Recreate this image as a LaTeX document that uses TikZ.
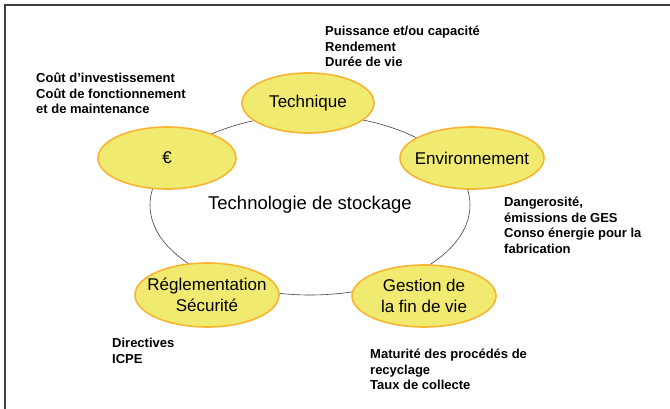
\documentclass[tikz,border=0pt]{standalone}
\usepackage{fontspec}
\setmainfont{Liberation Sans}
\usetikzlibrary{shapes.geometric}
\definecolor{bulle}{HTML}{F0EA70}
\definecolor{bord}{HTML}{F7B532}
\definecolor{trait}{HTML}{404040}
\tikzset{
    critere/.style={ellipse, draw=bord, line width=1.6pt, fill=bulle, inner ysep=0pt,
        inner xsep=-9pt, align=center, font=\fontsize{17}{21}\selectfont},
    detail/.style={anchor=north west, inner sep=0pt, align=left,
        font=\fontsize{13}{15.5}\selectfont\bfseries}
}

\begin{document}
\begin{tikzpicture}[x=1pt,y=-1pt]
        \useasboundingbox (0,0) rectangle (670,409);
        \draw[trait, line width=1.5pt] (5,409) -- (5,5) -- (670,5);
        % centre
        \coordinate (O) at (310,205);
        \draw[trait, line width=0.6pt] (O) ellipse (160 and 90);
        \node (titre) at (O) {\fontsize{18.5}{22}\selectfont Technologie de stockage};
        % les cinq criteres
        \coordinate (Tc) at (308,103);
        \coordinate (Ec) at (167,158);
        \coordinate (Ev) at (472,158);
        \coordinate (Rg) at (207,295);
        \coordinate (Gf) at (424,296);
        \node[critere, minimum width=132pt, minimum height=60pt] (tech) at (Tc) {Technique};
        \node[critere, minimum width=138pt, minimum height=62pt] (euro) at (Ec) {€};
        \node[critere, minimum width=144pt, minimum height=62pt] (env) at (Ev) {Environnement};
        \node[critere, minimum width=144pt, minimum height=64pt] (regl) at (Rg) {Réglementation\\Sécurité};
        \node[critere, minimum width=144pt, minimum height=62pt] (fin) at (Gf) {Gestion de\\la fin de vie};
        % les details
        \node[detail] (dtech) at (325,26) {Puissance et/ou capacité\\Rendement\\Durée de vie};
        \node[detail] (deuro) at (36,73) {Coût d’investissement\\Coût de fonctionnement\\et de maintenance};
        \node[detail] (denv) at (504,197) {Dangerosité,\\émissions de GES\\Conso énergie pour la\\fabrication};
        \node[detail] (dregl) at (112,338) {Directives\\ICPE};
        \node[detail] (dfin) at (370,349) {Maturité des procédés de\\recyclage\\Taux de collecte};
    \end{tikzpicture}
\end{document}
